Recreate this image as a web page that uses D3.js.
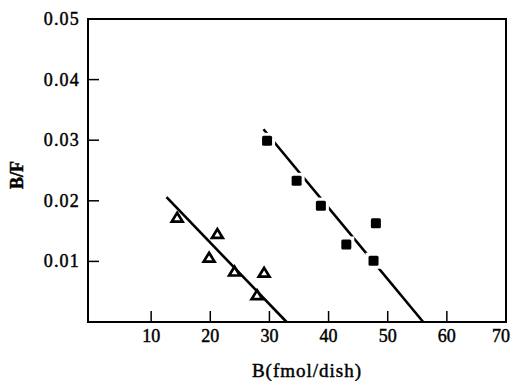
<!DOCTYPE html>
<html>
<head>
<meta charset="utf-8">
<script src="https://cdn.jsdelivr.net/npm/d3@7"></script>
<style>
    body { margin: 0; background: white; }
    svg { display: block; }
    text { font-family: "Liberation Serif", "Times New Roman", serif; fill: black; stroke: black; stroke-width: 0.45; }
</style>
</head>
<body>
<div id="chart"></div>
<script>
// open triangles
const triX = [14.4, 21.2, 19.8, 24.1, 29.1, 27.9];
const triY = [0.0173, 0.0146, 0.0107, 0.0084, 0.0082, 0.0045];
// filled squares
const sqX = [29.6, 34.6, 38.7, 48.0, 43.0, 47.6];
const sqY = [0.0299, 0.0233, 0.0192, 0.0163, 0.0128, 0.0101];
// regression lines (start, end)
const triLine = [[12.6, 0.0206], [32.9, 0]];
const sqLine = [[29.0, 0.0318], [56.0, 0]];

const xTicks = [10, 20, 30, 40, 50, 60, 70];
const yTicks = [0.01, 0.02, 0.03, 0.04, 0.05];

const W = 512, H = 381;
const frame = {left: 88, right: 506, top: 19, bottom: 322};

const svg = d3.select('#chart')
    .append('svg')
    .attr('width', W)
    .attr('height', H);

const x = d3.scaleLinear().domain([0, 70]).range([92, 506]);
const y = d3.scaleLinear().domain([0, 0.05]).range([frame.bottom, frame.top]);

// frame
svg.append('rect')
    .attr('x', frame.left)
    .attr('y', frame.top)
    .attr('width', frame.right - frame.left)
    .attr('height', frame.bottom - frame.top)
    .attr('fill', 'none')
    .attr('stroke', 'black')
    .attr('stroke-width', 2);

// x ticks (inward)
svg.selectAll('.xtick')
    .data(xTicks.filter(d => d < 70))
    .enter()
    .append('line')
    .attr('x1', d => x(d))
    .attr('x2', d => x(d))
    .attr('y1', frame.bottom)
    .attr('y2', frame.bottom - 11)
    .attr('stroke', 'black')
    .attr('stroke-width', 1.5);

svg.selectAll('.xlab')
    .data(xTicks)
    .enter()
    .append('text')
    .attr('x', d => d === 70 ? x(d) - 5 : x(d))
    .attr('y', 342)
    .attr('text-anchor', 'middle')
    .attr('font-size', 18)
    .text(d => d);

// y ticks (inward)
svg.selectAll('.ytick')
    .data(yTicks.filter(d => d < 0.05))
    .enter()
    .append('line')
    .attr('x1', frame.left)
    .attr('x2', frame.left + 11)
    .attr('y1', d => y(d))
    .attr('y2', d => y(d))
    .attr('stroke', 'black')
    .attr('stroke-width', 1.5);

svg.selectAll('.ylab')
    .data(yTicks)
    .enter()
    .append('text')
    .attr('x', 80)
    .attr('y', d => y(d) + 6)
    .attr('text-anchor', 'end')
    .attr('font-size', 18)
    .attr('letter-spacing', 1.2)
    .text(d => d3.format('.2f')(d));

// axis titles
svg.append('text')
    .attr('text-anchor', 'middle')
    .attr('transform', 'translate(23, 175) rotate(-90)')
    .attr('font-size', 18)
    .attr('font-weight', 'bold')
    .text('B/F');

svg.append('text')
    .attr('x', 307)
    .attr('y', 377)
    .attr('text-anchor', 'middle')
    .attr('font-size', 19)
    .attr('letter-spacing', 1)
    .text('B(fmol/dish)');

// fitted lines
const line = d3.line().x(d => x(d[0])).y(d => y(d[1]));
[triLine, sqLine].forEach(l => {
    svg.append('path')
        .attr('d', line(l))
        .attr('fill', 'none')
        .attr('stroke', 'black')
        .attr('stroke-width', 2.6);
});

// squares: white halo cuts the line, then filled square
const sq = sqX.map((v, i) => [v, sqY[i]]);
svg.selectAll('.halo')
    .data(sq)
    .enter()
    .append('rect')
    .attr('x', d => x(d[0]) - 8)
    .attr('y', d => y(d[1]) - 8)
    .attr('width', 16)
    .attr('height', 16)
    .attr('fill', 'white');
svg.selectAll('.sq')
    .data(sq)
    .enter()
    .append('rect')
    .attr('x', d => x(d[0]) - 5)
    .attr('y', d => y(d[1]) - 5)
    .attr('width', 10)
    .attr('height', 10)
    .attr('rx', 1.5)
    .attr('fill', 'black');

// open triangles
const tri = triX.map((v, i) => [v, triY[i]]);
svg.selectAll('.tri')
    .data(tri)
    .enter()
    .append('path')
    .attr('d', d => {
        const cx = x(d[0]), cy = y(d[1]);
        return `M${cx},${cy - 4.4}L${cx + 5.4},${cy + 4.4}L${cx - 5.4},${cy + 4.4}Z`;
    })
    .attr('fill', 'white')
    .attr('stroke', 'black')
    .attr('stroke-width', 2.7)
    .attr('stroke-linejoin', 'miter');
</script>
</body>
</html>
